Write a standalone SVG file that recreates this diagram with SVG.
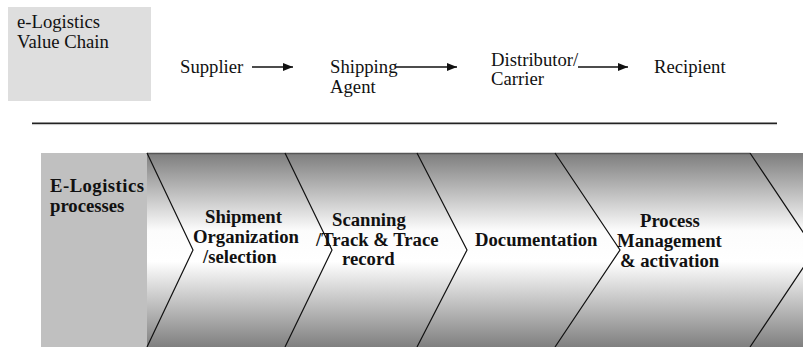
<svg xmlns="http://www.w3.org/2000/svg" width="803" height="347" viewBox="0 0 803 347">
  <style>
    .t { font-family: "Liberation Serif", "Times New Roman", serif; font-size: 18.7px; fill: #111; }
    .b { font-family: "Liberation Serif", "Times New Roman", serif; font-size: 18.7px; font-weight: bold; fill: #111; }
    .arrow { stroke: #111; stroke-width: 1.3; fill: none; marker-end: url(#ah); }
    .div { stroke: #111; stroke-width: 1.2; fill: none; }
  </style>
  <defs>
    <marker id="ah" viewBox="0 0 10 8" refX="10" refY="4" markerWidth="10" markerHeight="8" markerUnits="userSpaceOnUse" orient="auto">
      <path d="M0,0 L10,4 L0,8 Z" fill="#111"/>
    </marker>
    <linearGradient id="gr" gradientUnits="userSpaceOnUse" x1="0" y1="153" x2="0" y2="347">
      <stop offset="0" stop-color="#7d7d7d"/>
      <stop offset="0.4" stop-color="#fcfcfc"/>
      <stop offset="0.56" stop-color="#ffffff"/>
      <stop offset="1" stop-color="#808080"/>
    </linearGradient>
  </defs>

  <!-- top section -->
  <g id="value-chain-label">
    <rect x="8" y="7" width="143" height="94" fill="#dedede"/>
    <text class="t" x="17" y="28">e-Logistics</text>
    <text class="t" x="17" y="48">Value Chain</text>
  </g>
  <g id="supplier"><text class="t" x="180" y="73">Supplier</text></g>
  <g id="shipping-agent">
    <text class="t" x="330" y="73">Shipping</text>
    <text class="t" x="330" y="93">Agent</text>
  </g>
  <g id="distributor">
    <text class="t" x="491" y="65.5">Distributor/</text>
    <text class="t" x="491" y="85">Carrier</text>
  </g>
  <g id="recipient"><text class="t" x="654" y="73">Recipient</text></g>

  <g id="connectors">
    <line class="arrow" x1="252" y1="67" x2="293" y2="67"/>
    <line class="arrow" x1="396" y1="67" x2="457" y2="67"/>
    <line class="arrow" x1="578" y1="67" x2="628" y2="67"/>
  </g>

  <!-- separator -->
  <line x1="32" y1="124.6" x2="777" y2="124.6" stroke="#c4c4c4" stroke-width="1"/>
  <line x1="32" y1="123.3" x2="777" y2="123.3" stroke="#222" stroke-width="1.5"/>

  <!-- process band -->
  <g id="processes-label">
    <rect x="41" y="153" width="106" height="194" fill="#c0c0c0"/>
    <text class="b" x="50" y="191.5" textLength="94" lengthAdjust="spacing">E-Logistics</text>
    <text class="b" x="50" y="211.5">processes</text>
  </g>

  <g id="band">
    <rect x="147" y="153" width="656" height="194" fill="url(#gr)"/>
    <line x1="147" y1="153.5" x2="750" y2="153.5" stroke="#555" stroke-width="1.5"/>
    <polyline class="div" points="147,153 193,250 147,347"/>
    <polyline class="div" points="285,153 332,250 285,347"/>
    <polyline class="div" points="417,153 467,250 417,347"/>
    <polyline class="div" points="555,153 620,250 555,347"/>
    <polyline class="div" points="750,153 815,250 750,347"/>
  </g>

  <g id="step-shipment">
    <text class="b" x="205" y="223">Shipment</text>
    <text class="b" x="193" y="243">Organization</text>
    <text class="b" x="203" y="263">/selection</text>
  </g>
  <g id="step-scanning">
    <text class="b" x="332" y="226">Scanning</text>
    <text class="b" x="316" y="245.5">/Track &amp; Trace</text>
    <text class="b" x="342" y="265">record</text>
  </g>
  <g id="step-documentation">
    <text class="b" x="475" y="246">Documentation</text>
  </g>
  <g id="step-process">
    <text class="b" x="640" y="227">Process</text>
    <text class="b" x="617" y="247">Management</text>
    <text class="b" x="620" y="267">&amp; activation</text>
  </g>
</svg>
